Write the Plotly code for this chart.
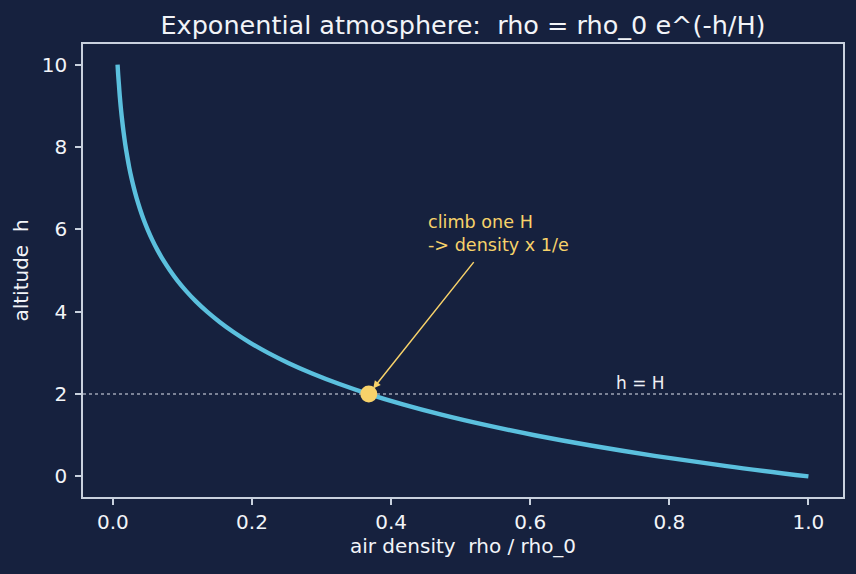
import plotly.graph_objects as go

# altitude h and relative density rho/rho_0
altitude = [0, 0.25, 0.5, 0.75, 1.0, 1.25, 1.5, 1.75, 2.0, 2.25, 2.5, 2.75, 3.0, 3.25,
            3.5, 3.75, 4.0, 4.25, 4.5, 4.75, 5.0, 5.25, 5.5, 5.75, 6.0, 6.25, 6.5, 6.75,
            7.0, 7.25, 7.5, 7.75, 8.0, 8.25, 8.5, 8.75, 9.0, 9.25, 9.5, 9.75, 10.0]
density = [1.000, 0.8825, 0.7788, 0.6873, 0.6065, 0.5353, 0.4724, 0.4169, 0.3679, 0.3247,
           0.2865, 0.2528, 0.2231, 0.1969, 0.1738, 0.1534, 0.1353, 0.1194, 0.1054, 0.0930,
           0.0821, 0.0724, 0.0639, 0.0564, 0.0498, 0.0439, 0.0388, 0.0342, 0.0302, 0.0266,
           0.0235, 0.0208, 0.0183, 0.0162, 0.0143, 0.0126, 0.0111, 0.0098, 0.0087, 0.0076,
           0.0067]

scale_height = 2.0
point_rho = [0.3679]
point_h = [2.0]

x_ticks = [0.0, 0.2, 0.4, 0.6, 0.8, 1.0]
x_tick_labels = ["0.0", "0.2", "0.4", "0.6", "0.8", "1.0"]
y_ticks = [0, 2, 4, 6, 8, 10]

BG = "#16213e"
FRAME = "#c9d1de"
CURVE = "#5bc0de"
GOLD = "#f7d26a"
TEXT = "#f2f4f8"
FONT = "DejaVu Sans"

fig = go.Figure()
fig.add_trace(go.Scatter(x=density, y=altitude, mode="lines", line=dict(color=CURVE, width=4.4),
                         line_shape="spline", hoverinfo="skip", showlegend=False))
fig.add_trace(go.Scatter(x=point_rho, y=point_h, mode="markers",
                         marker=dict(color=GOLD, size=17, line=dict(width=0)), showlegend=False))

fig.add_shape(type="line", xref="paper", x0=0, x1=1, yref="y", y0=scale_height, y1=scale_height,
              line=dict(color="#dfe4ee", width=1.1, dash="dot"), layer="below")

fig.add_annotation(x=0.72, y=scale_height, text="h = H", showarrow=False, xanchor="left",
                   yanchor="bottom", yshift=-1, font=dict(family=FONT, size=17, color="#eef0f5"))

fig.add_annotation(x=point_rho[0], y=point_h[0], ax=0.5205, ay=5.24, axref="x", ayref="y",
                   text="", showarrow=True, arrowhead=2, arrowsize=1.0, arrowwidth=1.5,
                   arrowcolor=GOLD, standoff=7)
fig.add_annotation(x=0.45, y=5.5, text="climb one H<br>-> density x 1/e", showarrow=False,
                   xanchor="left", yanchor="bottom", align="left", yshift=-7,
                   font=dict(family=FONT, size=17.6, color=GOLD))

axis_common = dict(showline=True, linecolor=FRAME, linewidth=1.6, mirror=True, ticks="outside",
                   ticklen=6, tickwidth=1.6, tickcolor=FRAME, showgrid=False, zeroline=False,
                   tickfont=dict(family=FONT, size=20, color=TEXT))

fig.update_xaxes(range=[-0.0430, 1.0497], tickvals=x_ticks, ticktext=x_tick_labels,
                 title=dict(text="air density  rho / rho_0", font=dict(family=FONT, size=20, color=TEXT),
                            standoff=6),
                 **axis_common)
fig.update_yaxes(range=[-0.5, 10.5], tickvals=y_ticks, ticklabelstandoff=4,
                 title=dict(text="altitude  h", font=dict(family=FONT, size=20, color=TEXT),
                            standoff=8),
                 **axis_common)

fig.update_layout(
    width=856, height=574,
    margin=dict(l=83, r=13, t=44, b=77),
    paper_bgcolor=BG, plot_bgcolor=BG,
    title=dict(text="Exponential atmosphere:  rho = rho_0 e^(-h/H)", x=(83 + 760 / 2) / 856,
               xanchor="center", y=1 - 25.5 / 574, yanchor="middle", yref="container",
               font=dict(family=FONT, size=25.5, color=TEXT)),
)

fig.write_html("out.html")
